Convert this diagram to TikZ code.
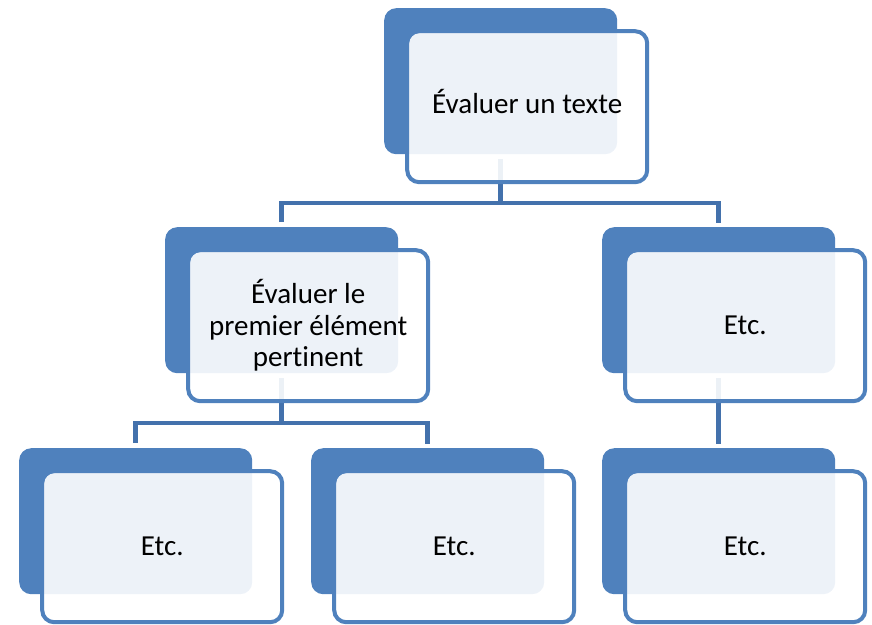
\documentclass[tikz,border=0pt]{standalone}
\usepackage{fontspec}
\setmainfont{Carlito}[Ligatures=NoCommon]
\usetikzlibrary{calc}
\definecolor{boxblue}{HTML}{4F81BD}
\definecolor{linkblue}{HTML}{4371AC}
\begin{document}
\begin{tikzpicture}[x=1pt,y=-1pt, line join=miter,
	backbox/.style={rectangle, rounded corners=12pt, fill=boxblue, inner sep=0pt,
		minimum width=233pt, minimum height=146pt, anchor=north west},
	frontbox/.style={rectangle, rounded corners=12pt, draw=boxblue, line width=4pt,
		fill=white, fill opacity=0.9, text opacity=1, inner sep=0pt, align=center,
		minimum width=240pt, minimum height=151pt,
		font=\fontsize{29}{31.5}\selectfont},
	link/.style={draw=linkblue, line width=4.5pt, shorten <=5pt, shorten >=4pt},
	stub/.style={draw=linkblue, line width=4.5pt, shorten <=5pt}]
	\useasboundingbox (0,0) rectangle (872,624);
	\def\dx{26.5}
	\def\dy{25.5}
	% back boxes
	\node[backbox] (b1) at (384,8) {};
	\node[backbox] (b2) at (165,227) {};
	\node[backbox] (b3) at (602,227) {};
	\node[backbox] (b4) at (19,448) {};
	\node[backbox] (b5) at (311,448) {};
	\node[backbox] (b6) at (602,448) {};
	\coordinate (lvl1) at (0,203);
	\coordinate (lvl2) at (0,423);
	% connectors
	\draw[stub] (b1.south) -- (b1.south |- lvl1);
	\draw[link] (b2.north) |- (b1.south |- lvl1) -| (b3.north);
	\draw[stub] (b2.south) -- (b2.south |- lvl2);
	\draw[link] (b4.north) |- (b2.south |- lvl2) -| (b5.north);
	\draw[link] (b3.south) -- (b6.north);
	% front boxes
	\node[frontbox, text height=19pt, text depth=5pt] (f1) at ([shift={(\dx,\dy)}]b1.center) {Évaluer un texte};
	\node[frontbox] (f2) at ([shift={(\dx,\dy)}]b2.center) {Évaluer le\\premier élément\\pertinent};
	\node[frontbox] (f3) at ([shift={(\dx,\dy)}]b3.center) {Etc.};
	\node[frontbox] (f4) at ([shift={(\dx,\dy)}]b4.center) {Etc.};
	\node[frontbox] (f5) at ([shift={(\dx,\dy)}]b5.center) {Etc.};
	\node[frontbox] (f6) at ([shift={(\dx,\dy)}]b6.center) {Etc.};
\end{tikzpicture}
\end{document}
